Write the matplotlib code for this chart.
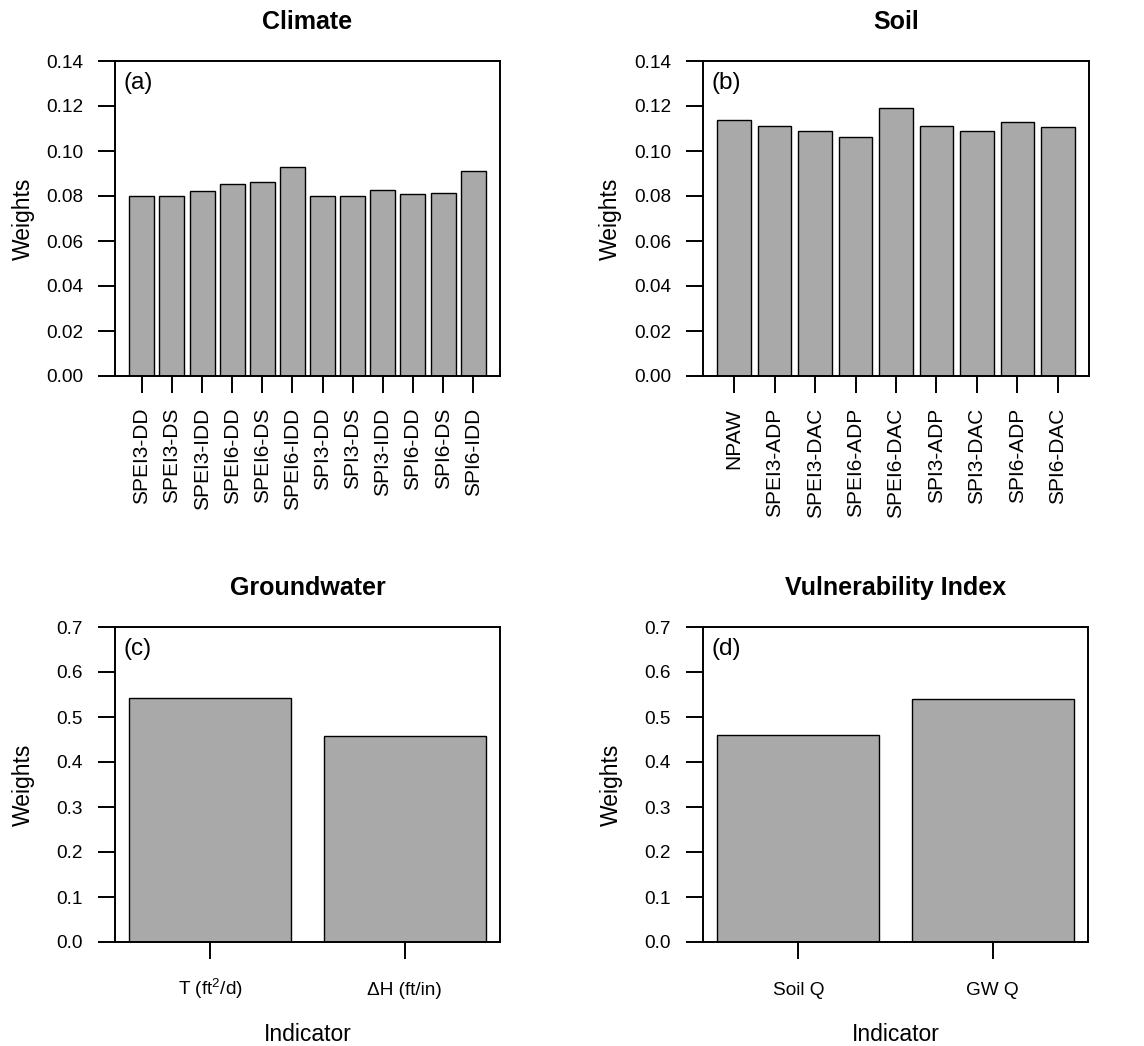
import numpy as np
import matplotlib
matplotlib.use('Agg')
import matplotlib.pyplot as plt

plt.rcParams['font.family'] = ['Liberation Sans', 'DejaVu Sans']
plt.rcParams['mathtext.fontset'] = 'custom'
plt.rcParams['mathtext.rm'] = 'Liberation Sans'
plt.rcParams['mathtext.default'] = 'regular'

# Weights
climate_labels = ['SPEI3-DD', 'SPEI3-DS', 'SPEI3-IDD', 'SPEI6-DD', 'SPEI6-DS', 'SPEI6-IDD',
                  'SPI3-DD', 'SPI3-DS', 'SPI3-IDD', 'SPI6-DD', 'SPI6-DS', 'SPI6-IDD']
climate_weights = [0.0799, 0.0799, 0.0824, 0.0854, 0.0861, 0.0928,
                   0.0799, 0.0801, 0.0827, 0.0807, 0.0815, 0.0913]

soil_labels = ['NPAW', 'SPEI3-ADP', 'SPEI3-DAC', 'SPEI6-ADP', 'SPEI6-DAC',
               'SPI3-ADP', 'SPI3-DAC', 'SPI6-ADP', 'SPI6-DAC']
soil_weights = [0.1138, 0.1110, 0.1089, 0.1061, 0.1193, 0.1110, 0.1088, 0.1128, 0.1107]

gw_labels = ['T (ft$^{2}$/d)', 'ΔH (ft/in)']
gw_weights = [0.543, 0.457]

vi_labels = ['Soil Q', 'GW Q']
vi_weights = [0.460, 0.541]

bar_color = '#A9A9A9'
W, H = 1144, 1046


def rect(x0, x1, y0, y1):
    # pixel box -> figure fraction
    return [x0 / W, 1 - y1 / H, (x1 - x0) / W, (y1 - y0) / H]


def r_barplot(ax, labels, values, ymax, ystep, fmt, title, tag, rotate, xlabel=None):
    n = len(values)
    # same geometry as R barplot(): width 1, space 0.2, 4% padding
    left = 0.2 + 1.2 * np.arange(n)
    centers = left + 0.5
    ax.bar(centers, values, width=1.0, color=bar_color, edgecolor='black', linewidth=1.0)
    span = left[-1] + 1 - left[0]
    ax.set_xlim(left[0] - 0.04 * span, left[-1] + 1 + 0.04 * span)
    ax.set_ylim(0, ymax)

    yt = np.arange(0, ymax + ystep / 2, ystep)
    ax.set_yticks(yt)
    ax.set_yticklabels([fmt.format(v) for v in yt])
    ax.set_xticks(centers)
    ax.tick_params(axis='both', direction='out', length=12, width=1.4, labelsize=13.7, pad=11)
    if rotate:
        ax.set_xticklabels(labels, rotation=90, fontsize=15)
    else:
        ax.set_xticklabels(labels, fontsize=13.7)
        # put labels on a common baseline (the superscript makes one taller)
        for lbl in ax.get_xticklabels():
            lbl.set_va('baseline')
        ax.tick_params(axis='x', pad=26)
    for s in ax.spines.values():
        s.set_linewidth(1.4)

    ax.set_ylabel('Weights', fontsize=16.5)
    ax.yaxis.set_label_coords(-0.239, 0.5)
    ax.yaxis.label.set_va('center')
    if xlabel:
        ax.set_xlabel(xlabel, fontsize=16.5)
        ax.xaxis.set_label_coords(0.5, -0.295)
        ax.xaxis.label.set_va('center')

    ax.text(0.5, 1 + 39 / 315, title, transform=ax.transAxes, ha='center', va='center',
            fontsize=18, fontweight='bold')
    ax.text(0.021, 0.93, tag, transform=ax.transAxes, ha='left', va='center', fontsize=17.5)


fig = plt.figure(figsize=(W / 100, H / 100), dpi=100)

ax_a = fig.add_axes(rect(115, 500, 61, 376))
r_barplot(ax_a, climate_labels, climate_weights, 0.14, 0.02, '{:.2f}', 'Climate', '(a)', True)

ax_b = fig.add_axes(rect(703, 1089, 61, 376))
r_barplot(ax_b, soil_labels, soil_weights, 0.14, 0.02, '{:.2f}', 'Soil', '(b)', True)

ax_c = fig.add_axes(rect(115, 500, 627, 942))
r_barplot(ax_c, gw_labels, gw_weights, 0.7, 0.1, '{:.1f}', 'Groundwater', '(c)', False,
          xlabel='Indicator')

ax_d = fig.add_axes(rect(703, 1088, 627, 942))
r_barplot(ax_d, vi_labels, vi_weights, 0.7, 0.1, '{:.1f}', 'Vulnerability Index', '(d)', False,
          xlabel='Indicator')

fig.savefig('out.png', dpi=100)
